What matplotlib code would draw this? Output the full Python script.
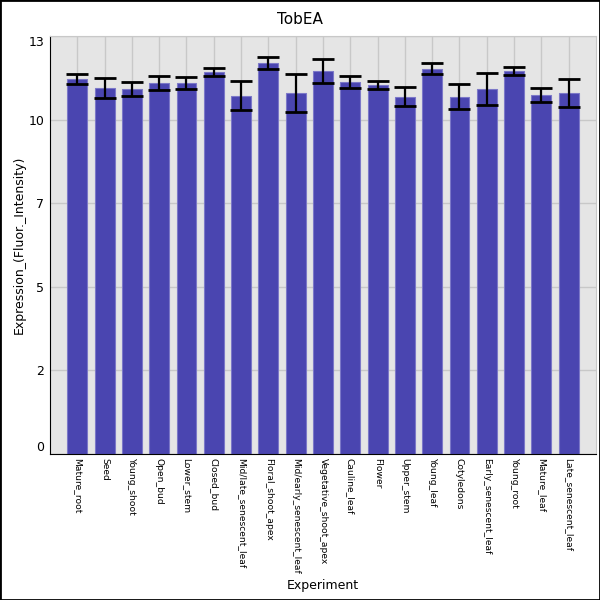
import numpy as np
import matplotlib.pyplot as plt
from matplotlib.patches import Rectangle

# Samples and expression values
samples = ["Mature_root", "Seed", "Young_shoot", "Open_bud", "Lower_stem", "Closed_bud",
           "Mid/late_senescent_leaf", "Floral_shoot_apex", "Mid/early_senescent_leaf",
           "Vegetative_shoot_apex", "Cauline_leaf", "Flower", "Upper_stem", "Young_leaf",
           "Cotyledons", "Early_senescent_leaf", "Young_root", "Mature_leaf",
           "Late_senescent_leaf"]
means = [11.66, 11.38, 11.35, 11.54, 11.54, 11.88, 11.14, 12.16, 11.23, 11.91,
         11.57, 11.48, 11.11, 11.98, 11.11, 11.35, 11.91, 11.17, 11.23]
errors = [0.16, 0.32, 0.22, 0.22, 0.20, 0.13, 0.45, 0.19, 0.59, 0.37,
          0.18, 0.12, 0.30, 0.17, 0.39, 0.49, 0.12, 0.22, 0.43]
ytick_vals = [0, 2.6, 5.2, 7.8, 10.4, 13]
ytick_labels = ["0", "2", "5", "7", "10", "13"]

fig = plt.figure(figsize=(6, 6), dpi=100)
ax = fig.add_axes([0.0833, 0.2433, 0.91, 0.6967])
ax.set_facecolor("#e5e5e5")

x = np.arange(len(samples))
ax.bar(x, means, width=0.73, color="#4a45b0", edgecolor="#7c78c8", linewidth=0.8, zorder=2)
ax.errorbar(x, means, yerr=errors, fmt="none", ecolor="black", elinewidth=1.6,
            capsize=8, capthick=2, zorder=3)

ax.set_xlim(-1, len(samples))
ax.set_ylim(0, 13)
ax.set_xticks(x)
ax.set_xticklabels(samples, rotation=-90, fontsize=6.6, va="top", ha="center")
ax.set_yticks(ytick_vals)
ax.set_yticklabels(ytick_labels, fontsize=9)
labels = ax.get_yticklabels()
labels[0].set_va("bottom")
labels[-1].set_va("top")
ax.tick_params(length=0, pad=4)
ax.tick_params(axis="x", pad=3)

ax.grid(True, color="#c8c8c8", linewidth=1, zorder=1)
ax.set_axisbelow(True)

for side in ["top", "right"]:
    ax.spines[side].set_color("#c8c8c8")
for side in ["left", "bottom"]:
    ax.spines[side].set_color("black")

ax.set_ylabel("Expression_(Fluor._Intensity)", fontsize=9, labelpad=2)
fig.text(0.5383, 0.025, "Experiment", ha="center", va="center", fontsize=9)
fig.text(0.5, 0.967, "TobEA", ha="center", va="center", fontsize=11)

# black frame round the whole picture
fig.patches.append(Rectangle((0, 0), 1, 1, transform=fig.transFigure, fill=False,
                             edgecolor="black", linewidth=2))

fig.savefig("out.png", dpi=100)
